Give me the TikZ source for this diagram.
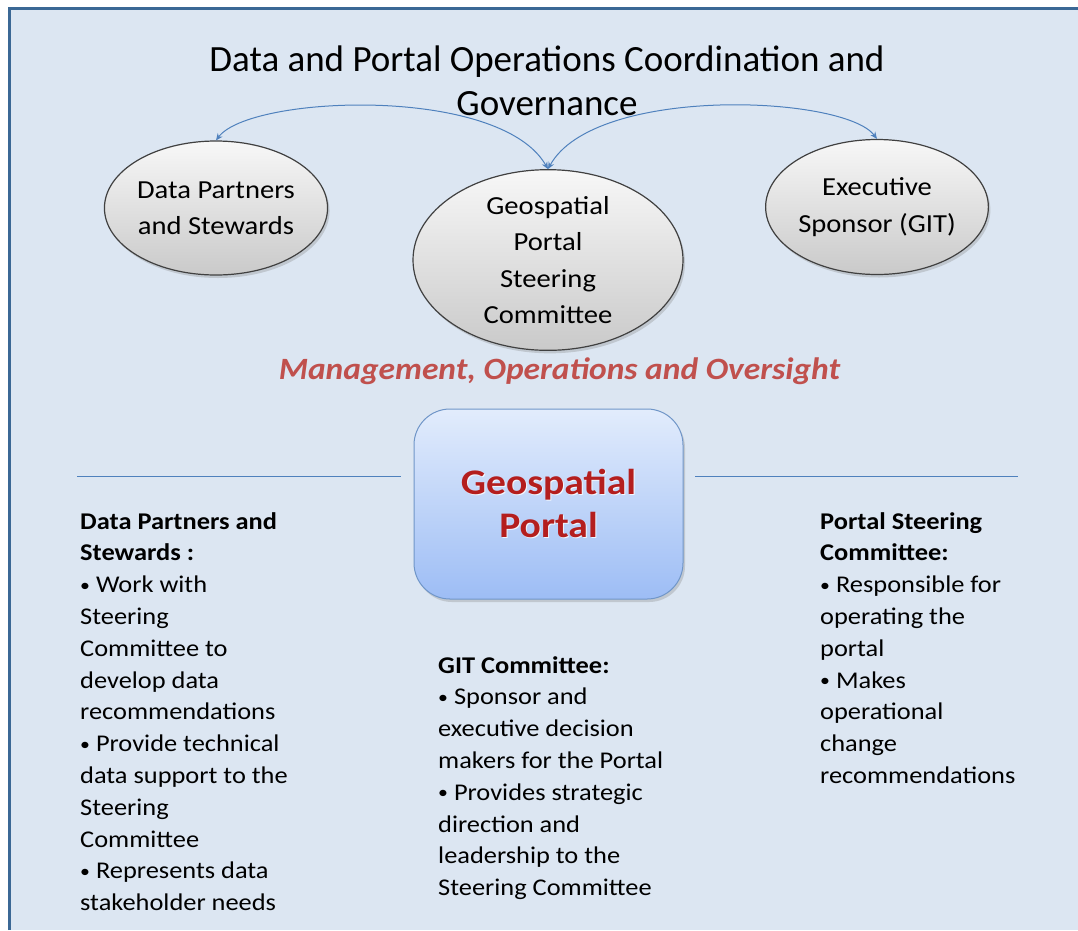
\documentclass[tikz,border=0pt]{standalone}
\usepackage{fontspec}
\setmainfont{Carlito}
\newfontfamily\widefont{Carlito}[FakeStretch=1.1]
\newfontfamily\mgmtfont{Carlito}[FakeStretch=1.08]
\newcommand\bulmark{{\fontsize{18}{18}\selectfont\raisebox{1.6pt}{•}}}
\usetikzlibrary{shapes.geometric,shadows,arrows.meta}
\definecolor{bg}{HTML}{DCE6F2}
\definecolor{frameblue}{HTML}{3B6895}
\definecolor{arrowblue}{HTML}{4F81BD}
\definecolor{mgmt}{HTML}{C0504D}
\definecolor{portalred}{HTML}{B41E1E}
\definecolor{boxtop}{HTML}{E2ECFC}
\definecolor{boxbot}{HTML}{9DBDF5}
\definecolor{boxline}{HTML}{7096C8}
\begin{document}
\begin{tikzpicture}[x=1pt,y=-1pt,
  oval/.style={ellipse, draw=black!75, line width=1.2pt, top color=gray!6, bottom color=gray!42,
    drop shadow={opacity=0.3,shadow xshift=2pt,shadow yshift=-3pt}, inner sep=0pt, align=center,
    font=\widefont\fontsize{26}{36.5}\selectfont},
  body/.style={anchor=north west, align=left, inner sep=0pt, font=\widefont\fontsize{24}{31.8}\selectfont},
  link/.style={arrowblue, line width=1pt, {Stealth[length=7pt,width=6pt]}-{Stealth[length=7pt,width=6pt]}},
  rulestyle/.style={arrowblue, line width=1pt}]
\useasboundingbox (0,0) rectangle (1078,930);
\fill[white] (0,0) rectangle (1078,930);
\fill[bg] (8,7) rectangle (1078,930);
\draw[frameblue, line width=3pt] (9.5,930) -- (9.5,8.5) -- (1078,8.5);

\node[align=center, font=\fontsize{37}{44}\selectfont] (title) at (547,81)
  {Data and Portal Operations Coordination and\\Governance};

\node[oval, minimum width=214pt, minimum height=134pt] (dps) at (216,208) {Data Partners\\and Stewards};
\node[oval, minimum width=270pt, minimum height=144pt] (gpsc) at (548,260) {Geospatial\\Portal\\Steering\\Committee};
\node[oval, minimum width=214pt, minimum height=135pt] (exec) at (877,207) {Executive\\Sponsor (GIT)};

\draw[link] (dps.north) .. controls (250,95) and (500,85) .. (gpsc.north);
\draw[link] (gpsc.north) .. controls (594,85) and (844,95) .. (exec.north);

\node[font=\mgmtfont\fontsize{31}{36}\selectfont\bfseries\itshape, text=mgmt] (mgmt) at (559.5,371)
  {Management, Operations and Oversight};

\node[draw=boxline, line width=1pt, rounded corners=36pt, minimum width=269pt, minimum height=190pt,
  top color=boxtop, bottom color=boxbot,
  drop shadow={opacity=0.3,shadow xshift=2pt,shadow yshift=-3pt}] (portal) at (548.5,504) {};
\node[align=center, font=\widefont\fontsize{36}{43}\selectfont\bfseries, text=white, opacity=0.8]
  (portalglow) at (549.5,504) {Geospatial\\Portal};
\node[align=center, font=\widefont\fontsize{36}{43}\selectfont\bfseries, text=portalred] (portaltxt) at (548.5,503)
  {Geospatial\\Portal};

\coordinate (ll) at (77,476);
\coordinate (rr) at (1018,476);
\draw[rulestyle] (ll) -- (401,476);
\draw[rulestyle] (695,476) -- (rr);

\node[body] (lefttxt) at (80,512) {\textbf{Data Partners and}\\\textbf{Stewards :}\\
  \bulmark\ Work with\\Steering\\Committee to\\develop data\\recommendations\\
  \bulmark\ Provide technical\\data support to the\\Steering\\Committee\\
  \bulmark\ Represents data\\stakeholder needs};

\node[body] (midtxt) at (438,656) {\textbf{GIT Committee:}\\
  \bulmark\ Sponsor and\\executive decision\\makers for the Portal\\
  \bulmark\ Provides strategic\\direction and\\leadership to the\\Steering Committee};

\node[body] (righttxt) at (820,512) {\textbf{Portal Steering}\\\textbf{Committee:}\\
  \bulmark\ Responsible for\\operating the\\portal\\
  \bulmark\ Makes\\operational\\change\\recommendations};
\end{tikzpicture}
\end{document}
